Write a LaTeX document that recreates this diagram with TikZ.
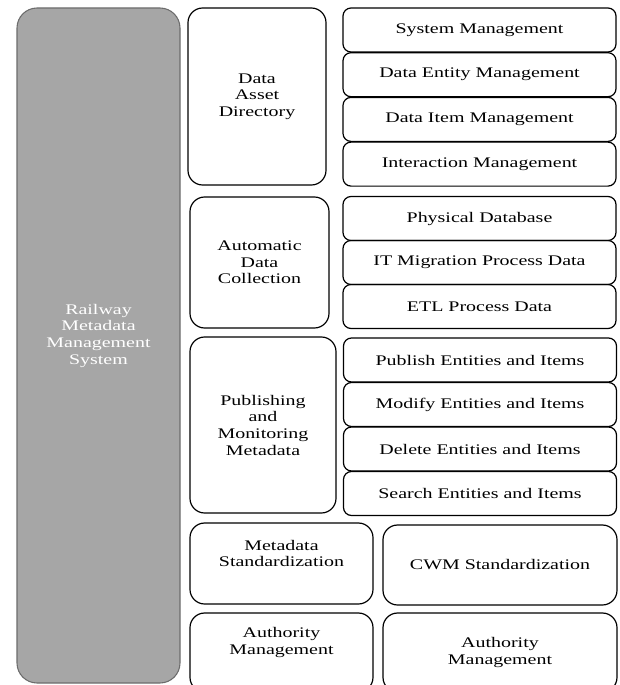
\documentclass[tikz,border=0pt]{standalone}
\usepackage{fontspec}
\setmainfont[FakeStretch=1.36]{Liberation Serif}
\tikzset{
  sysbox/.style={draw=gray!85!black, fill=gray!70, line width=0.8pt, rounded corners=15pt},
  groupbox/.style={draw, line width=0.9pt, rounded corners=11pt, align=center},
  itembox/.style={draw, line width=0.9pt, rounded corners=6pt, minimum width=204.75pt, minimum height=33pt},
  uptext/.style={align=center, yshift=7.5pt}
}
\begin{document}
\begin{tikzpicture}[x=0.75pt, y=-0.75pt, font=\fontsize{11}{12.5}\selectfont]
    \useasboundingbox (0,0) rectangle (619,685);
    % whole system
    \node[sysbox, minimum width=122.25pt, minimum height=506.25pt,
      label={[uptext, text=white]center:Railway\\Metadata\\Management\\System}] (rmms) at (98.5,345.5) {};
    % function groups
    \node[groupbox, minimum width=103.5pt, minimum height=132.75pt] (dad) at (257,96.5) {Data\\Asset\\Directory};
    \node[groupbox, minimum width=104.25pt, minimum height=98.25pt] (adc) at (259.5,262.5) {Automatic\\Data\\Collection};
    \node[groupbox, minimum width=109.5pt, minimum height=132pt] (pmm) at (263,425) {Publishing\\and\\Monitoring\\Metadata};
    \node[groupbox, minimum width=137.25pt, minimum height=60.75pt,
      label={[uptext]center:Metadata\\Standardization}] (mds) at (281.5,563.5) {};
    \node[groupbox, minimum width=137.25pt, minimum height=59.25pt,
      label={[uptext]center:Authority\\Management}] (aml) at (281.5,652.5) {};
    % sub functions
    \foreach \name/\txt [count=\i from 0] in {sm/System Management, dem/Data Entity Management,
        dim/Data Item Management, im/Interaction Management}
      \node[itembox] (\name) at (479.5,{30+44.7*\i}) {\txt};
    \foreach \name/\txt [count=\i from 0] in {pdb/Physical Database, itm/IT Migration Process Data,
        etl/ETL Process Data}
      \node[itembox] (\name) at (479.5,{218.5+44*\i}) {\txt};
    \foreach \name/\txt [count=\i from 0] in {pei/Publish Entities and Items, mei/Modify Entities and Items,
        dei/Delete Entities and Items, sei/Search Entities and Items}
      \node[itembox] (\name) at (480,{360+44.5*\i}) {\txt};
    \node[groupbox, minimum width=175.5pt, minimum height=60pt] (cwm) at (500,565) {CWM Standardization};
    \node[groupbox, minimum width=175.5pt, minimum height=59.25pt] (amr) at (500,652.5) {Authority\\Management};
\end{tikzpicture}
\end{document}
